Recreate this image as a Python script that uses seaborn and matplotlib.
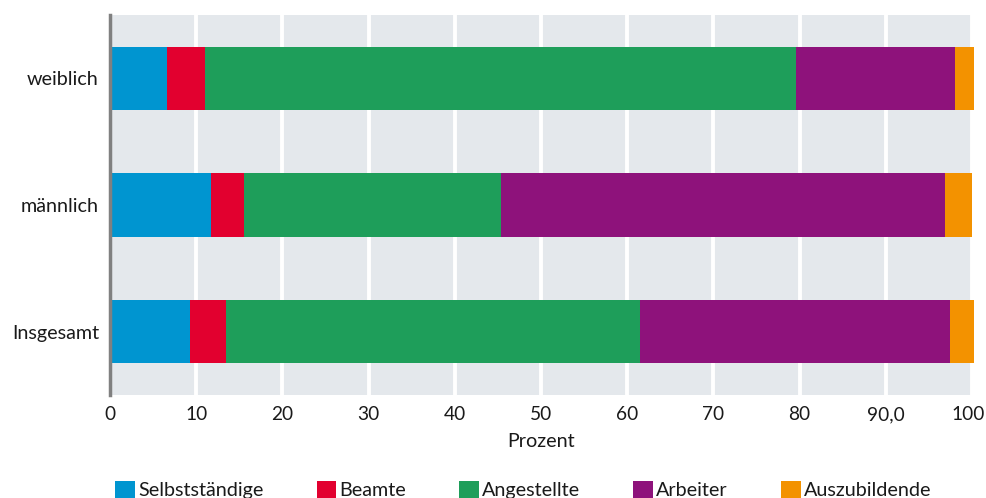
import numpy as np
import pandas as pd
import matplotlib
matplotlib.use("Agg")
import matplotlib.pyplot as plt
import matplotlib.transforms as mtransforms
import seaborn as sns
from matplotlib.patches import Patch

# Anteile der Stellung im Beruf (in Prozent)
categories = ["weiblich", "männlich", "Insgesamt"]
series_names = ["Selbstständige", "Beamte", "Angestellte", "Arbeiter", "Auszubildende"]
selbststaendige = [6.6, 11.7, 9.3]
beamte = [4.4, 3.8, 4.2]
angestellte = [68.6, 29.9, 48.0]
arbeiter = [18.4, 51.5, 35.9]
auszubildende = [2.2, 3.1, 2.8]
x_ticks = [0, 10, 20, 30, 40, 50, 60, 70, 80, 90, 100]
x_tick_labels = ["0", "10", "20", "30", "40", "50", "60", "70", "80", "90,0", "100"]

colors = ["#0095d0", "#e2002f", "#1e9e5a", "#8e127b", "#f39200"]

sns.set_theme(style="white")
plt.rcParams["font.family"] = ["Lato", "DejaVu Sans"]
FS = 14.2

fig = plt.figure(figsize=(9.87, 4.98), dpi=100)
ax = fig.add_axes([110 / 987, 1 - 395 / 498, 862 / 987, 380 / 498])
ax.set_facecolor("#e4e8ec")

series = [selbststaendige, beamte, angestellte, arbeiter, auszubildende]
cum = np.cumsum(np.array(series), axis=0)

# stacked bars: draw cumulative totals from the outermost segment inward
for i in range(len(series) - 1, -1, -1):
    df = pd.DataFrame({"Kategorie": categories, "Wert": cum[i]})
    sns.barplot(data=df, x="Wert", y="Kategorie", orient="h", color=colors[i],
                saturation=1, width=0.5, ax=ax, linewidth=0, zorder=3)

for p in ax.patches:
    p.set_clip_on(False)

ax.set_xlim(0, 100)
ax.set_ylim(2.5, -0.5)
ax.set_xticks(x_ticks)
ax.set_xticklabels(x_tick_labels)
ax.grid(axis="x", color="white", linewidth=2.8, zorder=1)
ax.grid(axis="y", visible=False)
ax.set_axisbelow(True)
ax.tick_params(axis="both", length=0, labelsize=FS, colors="#1a1a1a", pad=8)
ax.tick_params(axis="x", labelsize=13.8)
ax.set_xlabel("Prozent", fontsize=FS, color="#1a1a1a", labelpad=7)
ax.set_ylabel("")

# keep the last tick label inside the figure
last = ax.get_xticklabels()[-1]
last.set_transform(last.get_transform() +
                   mtransforms.ScaledTranslation(-4 / 100, 0, fig.dpi_scale_trans))

for side in ["top", "right", "bottom"]:
    ax.spines[side].set_visible(False)
ax.spines["left"].set_color("#808080")
ax.spines["left"].set_linewidth(2.5)
ax.spines["left"].set_zorder(5)

handles = [Patch(facecolor=c, edgecolor="none") for c in colors]
fig.legend(handles, series_names, loc="center", bbox_to_anchor=(0.53, 1 - 490 / 498),
           ncol=5, frameon=False, fontsize=FS, handlelength=1.0, handleheight=1.0,
           handletextpad=0.15, columnspacing=2.7, labelcolor="#1a1a1a")

fig.savefig("out.png", dpi=100)
